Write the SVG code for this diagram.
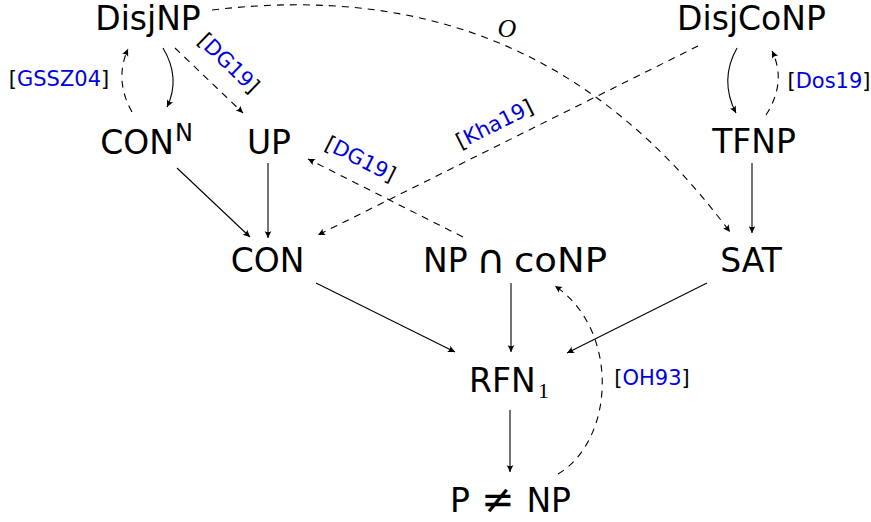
<svg xmlns="http://www.w3.org/2000/svg" width="871" height="522" viewBox="0 0 871 522">
<style>
.n{font-family:"DejaVu Sans",sans-serif;font-size:33px;fill:#000;text-anchor:middle}
.s{text-anchor:start}
.e{text-anchor:end}
.m{font-size:40px}
.sup{font-family:"DejaVu Sans",sans-serif;font-size:24px;fill:#000}
.sub{font-family:"Liberation Serif",serif;font-size:22px;fill:#000}
.lb{font-family:"DejaVu Sans",sans-serif;font-size:21px;fill:#000;text-anchor:middle}
.bl{fill:#0000e0}
.c{fill:none;stroke:#000;stroke-width:1.1}
.d{stroke-dasharray:7 6}
.a{marker-end:url(#ah)}
.o{font-family:"Liberation Serif",serif;font-style:italic;font-size:26px;fill:#000;text-anchor:middle}
</style>
<defs>
<marker id="ah" markerUnits="userSpaceOnUse" viewBox="-9 -5 10 10" markerWidth="10" markerHeight="10" refX="0" refY="0" orient="auto">
<path d="M0,0 L-7,-3.4 Q-4.6,0 -7,3.4 Z" fill="#000" stroke="none"/>
</marker>
</defs>
<g id="connectors">
<path class="c a" d="M163 48 Q181 78 167 107"/>
<path class="c d a" d="M132 112 Q114 80 128 49"/>
<path class="c d a" d="M175 48 L243 113"/>
<path class="c d a" d="M212 10 C431 -16 598 55 730 232"/>
<path class="c a" d="M737 48 Q719 80 736 113"/>
<path class="c d a" d="M766 115 Q787 82 772 51"/>
<path class="c d a" d="M698 46 L318 235"/>
<path class="c d a" d="M463 237 L308 159"/>
<path class="c a" d="M177 168 L250 237"/>
<path class="c a" d="M268 163 L268 238"/>
<path class="c a" d="M752 163 L752 233"/>
<path class="c a" d="M316 283 L455 352"/>
<path class="c a" d="M511 283 L511 352"/>
<path class="c a" d="M707 283 L567 353"/>
<path class="c a" d="M510 410 L510 472"/>
<path class="c d a" d="M558 474 C615 440 620 330 555 286"/>
<text class="lb" x="59" y="86">[<tspan class="bl">GSSZ04</tspan>]</text>
<text class="lb" transform="translate(228,64) rotate(44)" x="0" y="6">[<tspan class="bl">DG19</tspan>]</text>
<text class="o" x="507" y="37">O</text>
<text class="lb" x="829" y="88">[<tspan class="bl">Dos19</tspan>]</text>
<text class="lb" transform="translate(495,125) rotate(-26.6)" x="0" y="6">[<tspan class="bl">Kha19</tspan>]</text>
<text class="lb" transform="translate(360,160) rotate(26.7)" x="0" y="6">[<tspan class="bl">DG19</tspan>]</text>
<text class="lb" x="652" y="385">[<tspan class="bl">OH93</tspan>]</text>
</g>
<g id="DisjNP"><text class="n" x="148" y="30">DisjNP</text></g>
<g id="DisjCoNP"><text class="n" x="751.5" y="30">DisjCoNP</text></g>
<g id="CONN"><text class="n" x="137" y="154">CON</text><text class="sup" x="175" y="141">N</text></g>
<g id="UP"><text class="n" x="269" y="154">UP</text></g>
<g id="TFNP"><text class="n" x="754" y="153">TFNP</text></g>
<g id="CON"><text class="n" x="267.5" y="272">CON</text></g>
<g id="NPcoNP"><text class="n s" x="423" y="272">NP</text><text class="n m" x="491" y="273">∩</text><text class="n s" x="514" y="272" textLength="93" lengthAdjust="spacingAndGlyphs">coNP</text></g>
<g id="SAT"><text class="n" x="751" y="272">SAT</text></g>
<g id="RFN1"><text class="n s" x="469" y="392">RFN</text><text class="sub" x="538" y="398">1</text></g>
<g id="PneqNP"><text class="n s" x="450" y="512">P</text><text class="n m" x="498" y="513">≠</text><text class="n e" x="571" y="512">NP</text></g>
</svg>
